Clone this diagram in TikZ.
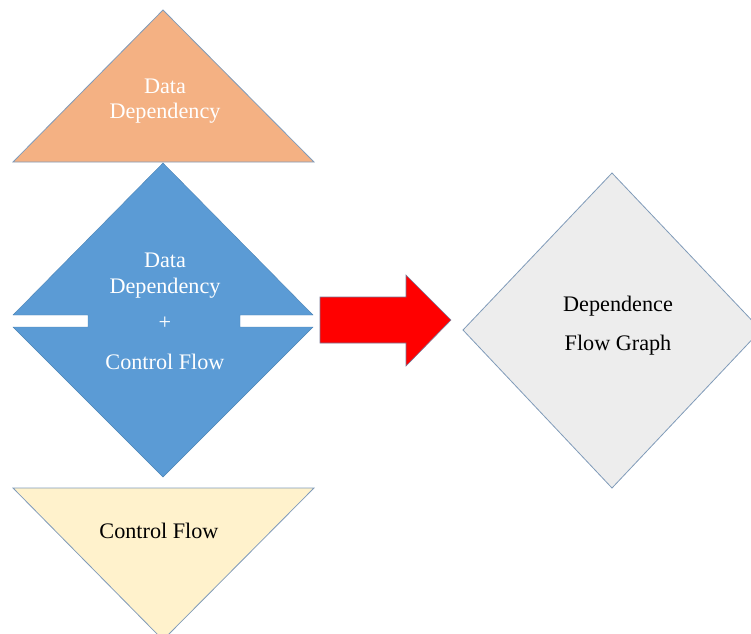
\documentclass[tikz,border=0pt]{standalone}
\usepackage{fontspec}
\setmainfont{Liberation Serif}
\definecolor{orangefill}{RGB}{244,177,131}
\definecolor{bluefill}{RGB}{91,155,213}
\definecolor{yellowfill}{RGB}{255,242,204}
\definecolor{greyfill}{RGB}{237,237,237}
\definecolor{edgecol}{RGB}{128,155,185}
\definecolor{redfill}{RGB}{255,0,0}
\definecolor{rededge}{RGB}{120,120,150}
\begin{document}
\begin{tikzpicture}[x=1pt,y=-1pt,
  shapeline/.style={draw=edgecol,line width=0.8pt,line join=miter},
  lbl/.style={anchor=base,inner sep=0pt,font=\fontsize{22.2}{25}\selectfont},
  white lbl/.style={lbl,text=white},
  black lbl/.style={lbl,text=black}]
\clip (0,0) rectangle (751,633);
% orange triangle
\filldraw[shapeline,fill=orangefill] (163,10) -- (314,162) -- (13,162) -- cycle;
\node[white lbl] (dd1) at (165,93) {Data};
\node[white lbl] (dd2) at (165,118) {Dependency};
% blue split diamond
\filldraw[draw=bluefill!85!black,line width=0.4pt,fill=bluefill]
  (163,163) -- (313,315) -- (240,315) -- (240,327) -- (313,327) -- (163,477)
  -- (13,327) -- (88,327) -- (88,315) -- (13,315) -- cycle;
\node[white lbl] (bd1) at (165,267) {Data};
\node[white lbl] (bd2) at (165,293) {Dependency};
\node[white lbl] (bplus) at (165,329) {+};
\node[white lbl] (bcf) at (165,369) {Control Flow};
% yellow triangle
\filldraw[shapeline,fill=yellowfill] (13,488) -- (314,488) -- (163,640) -- cycle;
\node[black lbl] (ycf) at (159,538) {Control Flow};
% red arrow
\filldraw[draw=rededge,line width=0.6pt,fill=redfill]
  (320,297) -- (406,297) -- (406,275) -- (451,320) -- (406,366) -- (406,343) -- (320,343) -- cycle;
% grey diamond
\filldraw[shapeline,fill=greyfill] (612,173) -- (761,330) -- (612,488) -- (463,330) -- cycle;
\node[black lbl] (g1) at (618,311) {Dependence};
\node[black lbl] (g2) at (618,350) {Flow Graph};
\end{tikzpicture}
\end{document}
